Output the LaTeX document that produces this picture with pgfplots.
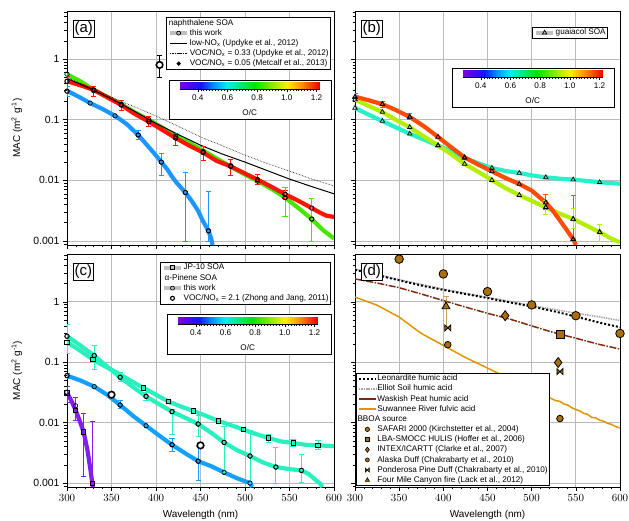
\documentclass[border=0pt]{standalone}
\usepackage{fontspec}
\setmainfont{Liberation Sans}
\usepackage{pgfplots}
\pgfplotsset{compat=1.18}
\definecolor{nblue}{RGB}{30,150,255}
\definecolor{ngreen}{RGB}{70,230,0}
\definecolor{nred}{RGB}{255,20,0}
\definecolor{gcyan}{RGB}{40,240,200}
\definecolor{gyel}{RGB}{180,238,0}
\definecolor{gorange}{RGB}{255,75,0}
\definecolor{ccyan}{RGB}{40,240,190}
\definecolor{cblue}{RGB}{20,160,255}
\definecolor{cpurple}{RGB}{130,30,240}
\definecolor{dbrown}{RGB}{130,40,15}
\definecolor{dgold}{RGB}{222,150,0}
\definecolor{dgray}{RGB}{165,165,165}
\definecolor{mfill}{RGB}{168,112,10}
\definecolor{errtan}{RGB}{205,160,80}
\pgfdeclareplotmark{bowtie}{%
  \pgfpathmoveto{\pgfqpoint{-\pgfplotmarksize}{-\pgfplotmarksize}}%
  \pgfpathlineto{\pgfqpoint{-\pgfplotmarksize}{\pgfplotmarksize}}%
  \pgfpathlineto{\pgfqpoint{\pgfplotmarksize}{-\pgfplotmarksize}}%
  \pgfpathlineto{\pgfqpoint{\pgfplotmarksize}{\pgfplotmarksize}}%
  \pgfpathclose
  \pgfusepathqfillstroke}
\pgfplotsset{
  colormap={oc}{rgb255(0pt)=(125,0,230); rgb255(14pt)=(20,20,255); rgb255(22pt)=(0,140,255); rgb255(32pt)=(0,240,240); rgb255(50pt)=(0,230,0); rgb255(72pt)=(255,240,0); rgb255(82pt)=(255,140,0); rgb255(94pt)=(240,0,0)},
}
\pgfplotsset{
  zzpanel/.style={
    scale only axis, width=267bp, height=234bp,
    xmin=300, xmax=600, ymin=0.00086, ymax=6.2,
    xtick={300,350,400,450,500,550,600}, minor x tick num=4,
    ytick={0.001,0.01,0.1,1}, yticklabels={0.001,0.01,0.1,1},
    minor ytick={0.0009,0.002,0.003,0.004,0.005,0.006,0.007,0.008,0.009,0.02,0.03,0.04,0.05,0.06,0.07,0.08,0.09,0.2,0.3,0.4,0.5,0.6,0.7,0.8,0.9,2,3,4,5,6},
    tick align=outside, xtick pos=left, ytick pos=left,
    major tick length=4bp, minor tick length=2.5bp,
    grid=major, major grid style={color=black!27, line width=0.8pt},
    axis line style={line width=0.8pt},
    every tick/.style={black, line width=0.6pt},
    tick label style={font=\fontsize{10.5}{12}\selectfont},
    label style={font=\fontsize{11}{13}\selectfont},
    every axis y label/.style={at={(axis description cs:-0.188,0.5)}, rotate=90, anchor=center},
    every axis x label/.style={at={(axis description cs:0.5,-0.12)}, anchor=center},
    legend cell align=left,
    legend style={font=\fontsize{8.2}{9.5}\selectfont, draw=black, fill=white, line width=0.6pt,
      inner xsep=1.5pt, inner ysep=1pt, row sep=1pt,
      nodes={inner sep=0.6pt, text height=6.2pt, text depth=1.8pt}},
  },
  zzcbar/.style={
    scale only axis, width=139.5bp, height=7bp, xmin=0.28, xmax=1.22, ymin=0, ymax=1,
    ytick=\empty, xtick={0.4,0.6,0.8,1.0,1.2}, xticklabels={0.4,0.6,0.8,1.0,1.2},
    minor x tick num=9, tick align=outside, xtick pos=left,
    major tick length=2.6bp, minor tick length=1.6bp,
    every tick/.style={black, line width=0.5pt},
    axis line style={line width=0.6pt},
    tick label style={font=\fontsize{8.2}{9}\selectfont},
    xlabel={O/C}, every axis x label/.style={at={(axis description cs:0.5,-3.3)}, anchor=center, font=\fontsize{8.2}{9}\selectfont},
    colormap name=oc, point meta min=0.28, point meta max=1.22,
  },
  zzthis/.style={line width=4pt, black!25, mark options={solid, black, line width=0.7pt, fill=none}},
  zzemk/.style={forget plot, only marks, mark options={black, line width=0.7pt, fill=none},
    error bars/y dir=both, error bars/y explicit,
    error bars/error bar style={#1, line width=0.8pt},
    error bars/error mark options={#1, rotate=90, mark size=2.6pt, line width=0.8pt}},
  zzmk/.style={forget plot, only marks, mark options={black, line width=0.7pt, fill=none}},
}
\newcommand{\cbarplot}{\addplot[patch, shader=interp, point meta=x] coordinates {
 (0.28,0) (0.42,0) (0.28,1)  (0.42,0) (0.42,1) (0.28,1)
 (0.42,0) (0.50,0) (0.42,1)  (0.50,0) (0.50,1) (0.42,1)
 (0.50,0) (0.60,0) (0.50,1)  (0.60,0) (0.60,1) (0.50,1)
 (0.60,0) (0.78,0) (0.60,1)  (0.78,0) (0.78,1) (0.60,1)
 (0.78,0) (1.00,0) (0.78,1)  (1.00,0) (1.00,1) (0.78,1)
 (1.00,0) (1.10,0) (1.00,1)  (1.10,0) (1.10,1) (1.00,1)
 (1.10,0) (1.22,0) (1.10,1)  (1.22,0) (1.22,1) (1.10,1)
};}
\begin{document}
\begin{tikzpicture}
\path[use as bounding box] (0,0) rectangle (629bp,521bp);
% ================= (a) =================
\begin{axis}[ymode=log, zzpanel, at={(67bp,276bp)}, anchor=south west, xticklabels={},
  ylabel={MAC (m\textsuperscript{2} g\textsuperscript{-1})},
  legend style={at={(0.989,0.974)}, anchor=north east}]
\addplot[forget plot, ngreen, line width=4.2pt] coordinates {(300,0.56) (315,0.43) (330,0.31) (345,0.24) (361,0.18) (376,0.133) (392,0.10) (407,0.074) (422,0.054) (438,0.041) (453,0.031) (468,0.023) (484,0.0168) (499,0.0127) (514,0.0098) (530,0.0072) (545,0.0052) (560,0.0035) (575,0.0023) (588,0.0015) (600,0.0011)};
\addplot[forget plot, nred, line width=4.2pt] coordinates {(300,0.43) (315,0.37) (330,0.31) (345,0.235) (361,0.175) (376,0.125) (392,0.093) (407,0.068) (422,0.050) (438,0.037) (453,0.0287) (468,0.021) (484,0.017) (499,0.0132) (514,0.0103) (530,0.0078) (545,0.0059) (560,0.0046) (575,0.0035) (585,0.0029) (592,0.0026) (600,0.0025)};
\addplot[forget plot, nblue, line width=4.2pt] coordinates {(300,0.30) (313,0.24) (326,0.188) (340,0.15) (354,0.116) (367,0.085) (380,0.056) (390,0.038) (397,0.029) (406,0.020) (413,0.015) (418,0.0115) (423,0.0092) (433,0.0063) (440,0.0046) (447,0.0032) (453,0.0021) (459,0.00147) (462,0.0011) (463.5,0.00086)};
\addplot[forget plot, black, line width=1pt] coordinates {(300,0.48) (325,0.33) (350,0.22) (375,0.14) (400,0.087) (425,0.057) (450,0.038) (475,0.027) (500,0.020) (525,0.0145) (550,0.0105) (575,0.0079) (600,0.0060)};
\addplot[forget plot, black, line width=0.6pt, densely dotted] coordinates {(300,0.50) (325,0.34) (350,0.235) (375,0.165) (400,0.115) (425,0.078) (450,0.052) (475,0.037) (500,0.026) (525,0.019) (550,0.0142) (575,0.0105) (600,0.0081)};
\addplot[mark=o, mark size=2.2pt, zzemk=nred] coordinates {(300,0.43) += (0,0.08) -= (0,0.07) (330,0.31) += (0,0.05) -= (0,0.07) (361,0.175) += (0,0.03) -= (0,0.03) (392,0.093) += (0,0.022) -= (0,0.016) (422,0.050) += (0,0.010) -= (0,0.012) (453,0.0287) += (0,0.0073) -= (0,0.0077) (484,0.017) += (0,0.005) -= (0,0.005) (514,0.0103) += (0,0.0022) -= (0,0.0018) (545,0.0059) += (0,0.0009) -= (0,0.0009)};
\addplot[mark=o, mark size=2.2pt, zzemk=ngreen] coordinates {(545,0.0052) += (0,0.0026) -= (0,0.0027) (575,0.0023) += (0,0.0027) -= (0,0.0013)};
\addplot[mark=o, mark size=2.2pt, zzemk=nblue] coordinates {(300,0.296) += (0,0.064) -= (0,0.056) (380,0.056) += (0,0.01) -= (0,0.009) (406,0.020) += (0,0.008) -= (0,0.008) (433,0.0063) += (0,0.0072) -= (0,0.0053) (459,0.00147) += (0,0.00513) -= (0,0.00047)};
\addplot[mark=o, mark size=2.2pt, zzmk] coordinates {(300,0.43) (330,0.31) (361,0.175) (392,0.093) (422,0.050) (453,0.0287) (484,0.017) (514,0.0103) (545,0.0059) (575,0.0035)};
\addplot[mark=o, mark size=2.2pt, zzmk] coordinates {(300,0.565) (330,0.30) (361,0.18) (392,0.10) (422,0.053) (453,0.030) (484,0.0175) (514,0.0097) (545,0.0052) (575,0.0023)};
\addplot[mark=o, mark size=2.2pt, zzmk] coordinates {(300,0.296) (326,0.188) (354,0.116) (380,0.056) (406,0.020) (433,0.0063) (459,0.00147)};
\addplot[forget plot, only marks, mark=*, mark size=3.3pt, mark options={fill=white, draw=black, line width=1.6pt},
  error bars/y dir=both, error bars/y explicit, error bars/error bar style={black, line width=0.9pt}, error bars/error mark options={black, rotate=90, mark size=2.6pt, line width=0.9pt}]
  coordinates {(404,0.8) += (0,0.35) -= (0,0.3)};
\addlegendimage{empty legend}\addlegendentry{\hspace{-21pt}naphthalene SOA}
\addlegendimage{zzthis, mark=o}\addlegendentry{this work}
\addlegendimage{black, line width=1pt}\addlegendentry{low-NO\textsubscript{x} (Updyke et al., 2012)}
\addlegendimage{black, line width=0.6pt, densely dotted}\addlegendentry{VOC/NO\textsubscript{x} = 0.33 (Updyke et al., 2012)}
\addlegendimage{only marks, mark=*, black, mark size=1.8pt}\addlegendentry{VOC/NO\textsubscript{x} = 0.05 (Metcalf et al., 2013)}
\node[draw, fill=white, line width=0.6pt, inner sep=1.5pt, anchor=north west, font=\fontsize{15}{16}\selectfont] at (rel axis cs:0.022,0.962) {(a)};
\end{axis}
% ================= (b) =================
\begin{axis}[ymode=log, zzpanel, width=265bp, at={(355bp,276bp)}, anchor=south west, xticklabels={}, yticklabels={},
  legend style={at={(0.955,0.932)}, anchor=north east}]
\addplot[forget plot, gcyan, line width=4.2pt] coordinates {(300,0.156) (315,0.122) (331,0.095) (346,0.075) (362,0.0586) (378,0.047) (394,0.0376) (409,0.030) (424,0.0235) (440,0.019) (455,0.016) (470,0.0143) (486,0.0132) (500,0.0121) (516,0.0112) (531,0.0107) (547,0.0103) (562,0.0098) (577,0.0093) (600,0.0088)};
\addplot[forget plot, gyel, line width=4.2pt] coordinates {(300,0.215) (315,0.17) (331,0.134) (346,0.10) (362,0.075) (378,0.053) (394,0.0376) (409,0.027) (424,0.0187) (440,0.0137) (455,0.0101) (470,0.0075) (486,0.0057) (500,0.0046) (516,0.00357) (530,0.0029) (547,0.0023) (562,0.0018) (577,0.0014) (590,0.0011) (600,0.00095)};
\addplot[forget plot, gorange, line width=4.2pt] coordinates {(300,0.24) (315,0.21) (331,0.18) (346,0.145) (362,0.111) (378,0.078) (394,0.052) (409,0.035) (424,0.024) (440,0.018) (455,0.0141) (470,0.011) (486,0.0087) (500,0.0068) (510,0.0051) (516,0.0043) (523,0.0033) (530,0.0024) (540,0.0015) (547,0.00107) (550,0.00086)};
\addplot[mark=triangle, mark size=2.6pt, zzemk=gorange] coordinates {(300,0.238) += (0,0.032) -= (0,0.028) (331,0.18) += (0,0.02) -= (0,0.02) (362,0.111) += (0,0.014) -= (0,0.011) (516,0.0043) += (0,0.0015) -= (0,0.001) (547,0.00107) += (0,0.0046) -= (0,0.00005)};
\addplot[mark=triangle, mark size=2.6pt, zzemk=gyel] coordinates {(516,0.0036) += (0,0.0011) -= (0,0.0009) (547,0.0023) += (0,0.0012) -= (0,0.0007) (577,0.0014) += (0,0.0005) -= (0,0.0004)};
\addplot[mark=triangle, mark size=2.6pt, zzmk] coordinates {(300,0.156) (331,0.095) (362,0.0586) (394,0.0376) (424,0.0235) (455,0.016) (486,0.0132) (516,0.0112) (547,0.0103) (577,0.0093)};
\addplot[mark=triangle, mark size=2.6pt, zzmk] coordinates {(300,0.215) (331,0.134) (362,0.075) (394,0.0376) (424,0.0187) (455,0.0101) (486,0.0057) (516,0.0036) (547,0.0023) (577,0.0014)};
\addplot[mark=triangle, mark size=2.6pt, zzmk] coordinates {(300,0.238) (331,0.18) (362,0.111) (394,0.052) (424,0.024) (455,0.0141) (486,0.0087) (516,0.0043) (547,0.00107)};
\addlegendimage{zzthis, mark=triangle, mark size=2.6pt}\addlegendentry{guaiacol SOA}
\node[draw, fill=white, line width=0.6pt, inner sep=1.5pt, anchor=north west, font=\fontsize{15}{16}\selectfont] at (rel axis cs:0.022,0.962) {(b)};
\end{axis}
% ================= (c) =================
\begin{axis}[ymode=log, zzpanel, height=233bp, at={(67bp,34bp)}, anchor=south west,
  ylabel={MAC (m\textsuperscript{2} g\textsuperscript{-1})}, xlabel={Wavelength (nm)},
  legend style={at={(0.989,0.966)}, anchor=north east}]
\addplot[forget plot, ccyan, line width=4.2pt] coordinates {(300,0.215) (315,0.155) (329,0.111) (343,0.085) (358,0.065) (372,0.049) (386,0.0376) (400,0.029) (414,0.0223) (428,0.0185) (442,0.0156) (456,0.013) (470,0.0107) (484,0.0091) (498,0.0077) (512,0.0065) (526,0.0056) (540,0.0049) (554,0.0046) (568,0.0043) (582,0.0042) (600,0.0041)};
\addplot[forget plot, ccyan, line width=4.2pt] coordinates {(300,0.27) (315,0.19) (330.6,0.129) (345,0.085) (359.7,0.0564) (375,0.038) (388.8,0.0273) (404,0.020) (418,0.0152) (433,0.012) (447.4,0.0095) (462,0.0068) (476.5,0.0047) (491,0.0035) (505.6,0.0028) (520,0.0022) (534.7,0.00184) (550,0.0017) (563.4,0.00162) (572,0.0014) (580,0.0011) (584,0.001) (587,0.00086)};
\addplot[forget plot, cblue, line width=4.2pt] coordinates {(300,0.060) (315,0.05) (330.6,0.0395) (345,0.029) (359.7,0.0196) (374,0.013) (388.8,0.0089) (403,0.0062) (418,0.0043) (433,0.0031) (447.4,0.0023) (462,0.0019) (476.5,0.0015) (491,0.0012) (505.6,0.001) (508,0.00086)};
\addplot[forget plot, cpurple, line width=4.2pt] coordinates {(300,0.031) (305,0.023) (309.7,0.016) (314,0.011) (318.7,0.007) (323,0.0035) (326,0.0018) (328.4,0.001) (329,0.00086)};
\addplot[mark=o, mark size=2.2pt, zzemk=ccyan] coordinates {(300,0.27) += (0,0.15) -= (0,0.13) (330.6,0.129) += (0,0.061) -= (0,0.054) (359.7,0.0564) += (0,0.0116) -= (0,0.0084) (388.8,0.0273) += (0,0.0047) -= (0,0.0043) (418,0.0152) += (0,0.0012) -= (0,0.0089) (447.4,0.0095) += (0,0.0035) -= (0,0.0035) (476.5,0.0047) += (0,0.004) -= (0,0.0032) (505.6,0.0028) += (0,0.0047) -= (0,0.0018) (534.7,0.00184) += (0,0.002) -= (0,0.00084) (563.4,0.00162) += (0,0.0014) -= (0,0.0006)};
\addplot[mark=square, mark size=2.2pt, zzemk=ccyan] coordinates {(526,0.0056) += (0,0.0009) -= (0,0.0008) (554,0.0046) += (0,0.0007) -= (0,0.0006) (582,0.0042) += (0,0.0008) -= (0,0.0006)};
\addplot[mark=o, mark size=2.2pt, zzemk=cblue] coordinates {(300,0.060) += (0,0.006) -= (0,0.006) (359.7,0.0196) += (0,0.0034) -= (0,0.0026) (418,0.0043) += (0,0.0011) -= (0,0.0009) (447.4,0.0023) += (0,0.0017) -= (0,0.0012)};
\addplot[mark=square, mark size=2.2pt, zzemk=cpurple] coordinates {(300,0.031) += (0,0.009) -= (0,0.009) (309.7,0.016) += (0,0.01) -= (0,0.005) (318.7,0.007) += (0,0.0075) -= (0,0.0057) (328.4,0.001) += (0,0.0095) -= (0,0.00001)};
\addplot[mark=square, mark size=2.2pt, zzmk] coordinates {(300,0.215) (329,0.111) (386,0.0376) (414,0.0223) (442,0.0156) (470,0.0107) (498,0.0077) (526,0.0056) (554,0.0046) (582,0.0042)};
\addplot[mark=o, mark size=2.2pt, zzmk] coordinates {(300,0.27) (330.6,0.129) (359.7,0.0564) (388.8,0.0273) (418,0.0152) (447.4,0.0095) (476.5,0.0047) (505.6,0.0028) (534.7,0.00184) (563.4,0.00162)};
\addplot[mark=o, mark size=2.2pt, zzmk] coordinates {(300,0.060) (330.6,0.0395) (359.7,0.0196) (388.8,0.0089) (418,0.0043) (447.4,0.0023) (476.5,0.0015) (505.6,0.001)};
\addplot[mark=square, mark size=2.2pt, zzmk] coordinates {(300,0.031) (309.7,0.016) (318.7,0.007) (328.4,0.001)};
\addplot[mark=o, mark size=2.2pt, zzmk] coordinates {(300,0.032) (309.7,0.019)};
\addplot[forget plot, only marks, mark=*, mark size=3.3pt, mark options={fill=white, draw=black, line width=1.6pt}] coordinates {(350,0.029) (450,0.0042)};
\addlegendimage{zzthis, mark=square}\addlegendentry{JP-10 SOA}
\addlegendimage{empty legend}\addlegendentry{\hspace{-19pt}α-Pinene SOA}
\addlegendimage{zzthis, mark=o}\addlegendentry{this work}
\addlegendimage{only marks, mark=*, mark size=2pt, mark options={fill=white, draw=black, line width=1.1pt}}\addlegendentry{VOC/NO\textsubscript{x} = 2.1 (Zhong and Jang, 2011)}
\node[draw, fill=white, line width=0.6pt, inner sep=1.5pt, anchor=north west, font=\fontsize{15}{16}\selectfont] at (rel axis cs:0.022,0.962) {(c)};
\end{axis}
% ================= (d) =================
\begin{axis}[ymode=log, zzpanel, width=265bp, height=233bp, at={(355bp,34bp)}, anchor=south west, yticklabels={},
  xlabel={Wavelength (nm)},
  legend style={at={(0.004,0.004)}, anchor=south west}]
\addplot[forget plot, dgold, line width=1.5pt] coordinates {(300,1.2) (325,0.88) (350,0.56) (375,0.30) (400,0.19) (425,0.12) (450,0.08) (472,0.056) (495,0.038) (521,0.0256) (527,0.0232) (532,0.0225) (536,0.0205) (541,0.0195) (545,0.0178) (550,0.0164) (554,0.0158) (559,0.0142) (563,0.0138) (568,0.0122) (572,0.0121) (577,0.0110) (581,0.0106) (586,0.0097) (590,0.0094) (595,0.0086) (600,0.0082)};
\addplot[forget plot, dbrown, line width=1.5pt, dash pattern=on 7pt off 1.5pt on 1.5pt off 1.5pt] coordinates {(300,2.4) (325,2.05) (349,1.73) (375,1.35) (400,1.05) (425,0.82) (451,0.64) (475,0.52) (500,0.40) (525,0.31) (550,0.25) (575,0.20) (600,0.165)};
\addplot[forget plot, dgray, line width=1.6pt, dash pattern=on 1.4pt off 1pt] coordinates {(300,3.5) (338,2.55) (400,1.62) (451,1.18) (500,0.87) (550,0.65) (575,0.57) (600,0.49)};
\addplot[forget plot, black, line width=2pt, dash pattern=on 2pt off 2pt] coordinates {(300,3.4) (320,2.9) (338,2.5) (360,2.1) (380,1.8) (400,1.58) (425,1.35) (451,1.15) (475,0.98) (500,0.84) (525,0.70) (550,0.57) (575,0.46) (600,0.38)};
\addplot[forget plot, only marks, mark=triangle*, mark size=4.5pt, mark options={fill=mfill, draw=black, line width=0.8pt},
  error bars/y dir=both, error bars/y explicit, error bars/error bar style={errtan, line width=0.9pt}, error bars/error mark options={errtan, rotate=90, mark size=2.6pt, line width=0.9pt}]
  coordinates {(403,0.84) += (0,0.38) -= (0,0.45)};
\addplot[forget plot, only marks, mark=*, mark size=4.3pt, mark options={fill=mfill, draw=black, line width=0.8pt}] coordinates {(350,5.1) (400,2.9) (450,1.48) (500,0.89) (550,0.59) (600,0.30)};
\addplot[forget plot, only marks, mark=square*, mark size=4pt, mark options={fill=mfill, draw=black, line width=0.8pt}] coordinates {(532,0.29)};
\addplot[forget plot, only marks, mark=diamond*, mark size=5pt, mark options={fill=mfill, draw=black, line width=0.8pt}] coordinates {(470,0.59) (530,0.099)};
\addplot[forget plot, only marks, mark=*, mark size=3.3pt, mark options={fill=mfill, draw=black, line width=0.8pt}] coordinates {(405,0.195) (532,0.0117)};
\addplot[forget plot, only marks, mark=bowtie, mark size=3pt, mark options={fill=mfill, draw=black, line width=0.8pt}] coordinates {(405,0.37) (532,0.07)};
\addlegendimage{black, line width=2pt, dash pattern=on 2pt off 2pt}\addlegendentry{Leonardite humic acid}
\addlegendimage{dgray, line width=1.6pt, dash pattern=on 1.4pt off 1pt}\addlegendentry{Elliot Soil humic acid}
\addlegendimage{dbrown, line width=1.5pt}\addlegendentry{Waskish Peat humic acid}
\addlegendimage{dgold, line width=1.5pt}\addlegendentry{Suwannee River fulvic acid}
\addlegendimage{empty legend}\addlegendentry{\hspace{-20pt}BBOA source}
\addlegendimage{only marks, mark=*, mark size=2.2pt, mark options={fill=mfill, draw=black, line width=0.6pt}}\addlegendentry{SAFARI 2000 (Kirchstetter et al., 2004)}
\addlegendimage{only marks, mark=square*, mark size=2.2pt, mark options={fill=mfill, draw=black, line width=0.6pt}}\addlegendentry{LBA-SMOCC HULIS (Hoffer et al., 2006)}
\addlegendimage{only marks, mark=diamond*, mark size=2.6pt, mark options={fill=mfill, draw=black, line width=0.6pt}}\addlegendentry{INTEX/ICARTT (Clarke et al., 2007)}
\addlegendimage{only marks, mark=*, mark size=2pt, mark options={fill=mfill, draw=black, line width=0.6pt}}\addlegendentry{Alaska Duff (Chakrabarty et al., 2010)}
\addlegendimage{only marks, mark=bowtie, mark size=2pt, mark options={fill=mfill, draw=black, line width=0.6pt}}\addlegendentry{Ponderosa Pine Duff (Chakrabarty et al., 2010)}
\addlegendimage{only marks, mark=triangle*, mark size=2.4pt, mark options={fill=mfill, draw=black, line width=0.6pt}}\addlegendentry{Four Mile Canyon fire (Lack et al., 2012)}
\node[draw, fill=white, line width=0.6pt, inner sep=1.5pt, anchor=north west, font=\fontsize{15}{16}\selectfont] at (rel axis cs:0.022,0.962) {(d)};
\end{axis}
% ================= colour bars =================
\draw[fill=white, line width=0.6pt] (169bp,402bp) rectangle (331bp,441bp);
\begin{axis}[zzcbar, at={(180bp,432bp)}, anchor=south west]
\cbarplot
\end{axis}
\draw[fill=white, line width=0.6pt] (452bp,414bp) rectangle (614bp,453bp);
\begin{axis}[zzcbar, at={(463bp,444bp)}, anchor=south west]
\cbarplot
\end{axis}
\draw[fill=white, line width=0.6pt] (167bp,167bp) rectangle (331bp,207bp);
\begin{axis}[zzcbar, at={(178bp,197bp)}, anchor=south west]
\cbarplot
\end{axis}
\end{tikzpicture}
\end{document}
